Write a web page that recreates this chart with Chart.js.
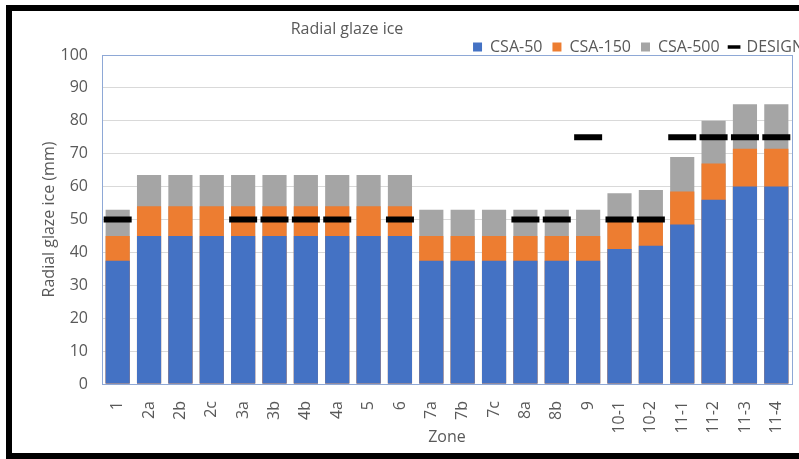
<!DOCTYPE html>
<html>
<head>
<meta charset="utf-8">
<script src="https://cdn.jsdelivr.net/npm/chart.js@4/dist/chart.umd.min.js"></script>
<style>
  html, body { margin: 0; padding: 0; background: #fff; width: 799px; height: 459px; overflow: hidden; }
  #clip { position: absolute; left: 0; top: 0; width: 799px; height: 459px; overflow: hidden; }
  #frame { position: absolute; left: 6px; top: 5px; width: 805px; height: 442px; border: 6px solid #000; background: #fff; }
  #c { position: absolute; left: 0; top: 0; }
</style>
</head>
<body>
<div id="clip"><div id="frame"><canvas id="c" width="802" height="442"></canvas></div></div>
<script>
// Zones and radial glaze ice thickness (mm) per return period
const zones = ['1','2a','2b','2c','3a','3b','4b','4a','5','6','7a','7b','7c','8a','8b','9','10-1','10-2','11-1','11-2','11-3','11-4'];
const csa50  = [37.5,45,45,45,45,45,45,45,45,45,37.5,37.5,37.5,37.5,37.5,37.5,41,42,48.5,56,60,60];
const csa150 = [45,54,54,54,54,54,54,54,54,54,45,45,45,45,45,45,50,50,58.5,67,71.5,71.5];
const csa500 = [53,63.5,63.5,63.5,63.5,63.5,63.5,63.5,63.5,63.5,53,53,53,53,53,53,58,59,69,80,85,85];
const design = [50,null,null,null,50,50,50,50,null,50,null,null,null,50,50,75,50,50,75,75,75,75];
const yTicks = [0,10,20,30,40,50,60,70,80,90,100];

const textGrey = '#595959';
const FONT = "'Open Sans', 'DejaVu Sans', sans-serif";
const FS = 16;

// Frame around the plot area
const plotBorder = {
  id: 'plotBorder',
  beforeDatasetsDraw(chart) {
    const {ctx, chartArea: a} = chart;
    ctx.save();
    ctx.strokeStyle = '#8ea8d6';
    ctx.lineWidth = 1;
    ctx.strokeRect(Math.round(a.left) + 0.5, Math.round(a.top) + 0.5, Math.round(a.right - a.left), Math.round(a.bottom - a.top));
    ctx.restore();
  }
};

// Chart heading, placed left of centre above the legend
const heading = {
  id: 'heading',
  afterDraw(chart) {
    const {ctx} = chart;
    ctx.save();
    ctx.font = FS + "px " + FONT;
    ctx.fillStyle = textGrey;
    ctx.textAlign = 'center';
    ctx.textBaseline = 'middle';
    ctx.fillText('Radial glaze ice', 335, 18.5);
    ctx.restore();
  }
};

new Chart(document.getElementById('c'), {
  data: {
    labels: zones,
    datasets: [
      { type: 'bar', label: 'CSA-50',  data: csa50,  backgroundColor: '#4472C4', grouped: false, order: 1 },
      { type: 'bar', label: 'CSA-150', data: csa150, backgroundColor: '#ED7D31', grouped: false, order: 2 },
      { type: 'bar', label: 'CSA-500', data: csa500, backgroundColor: '#A5A5A5', grouped: false, order: 3 },
      { type: 'line', label: 'DESIGN', data: design, showLine: false, pointStyle: 'line',
        pointRadius: 14, pointHoverRadius: 14, pointBorderWidth: 6, pointHoverBorderWidth: 6,
        borderColor: '#000', backgroundColor: '#000', order: 0 }
    ]
  },
  options: {
    responsive: false,
    animation: false,
    devicePixelRatio: 1,
    layout: { padding: { top: 18, left: 0, right: 0, bottom: 0 } },
    datasets: { bar: { categoryPercentage: 1, barPercentage: 0.77 } },
    plugins: {
      tooltip: { enabled: false },
      title: { display: false },
      legend: {
        position: 'top',
        align: 'end',
        maxHeight: 26,
        labels: {
          usePointStyle: true,
          boxWidth: 9,
          boxHeight: 9,
          padding: 10,
          color: textGrey,
          font: { family: FONT, size: FS },
          generateLabels(chart) {
            const items = Chart.defaults.plugins.legend.labels.generateLabels(chart);
            items.forEach(it => {
              if (it.datasetIndex === 3) {
                it.pointStyle = 'line'; it.strokeStyle = '#000'; it.lineWidth = 3.5;
              } else {
                it.pointStyle = 'rect'; it.lineWidth = 0;
              }
            });
            return items.sort((a, b) => a.datasetIndex - b.datasetIndex);
          }
        }
      }
    },
    scales: {
      x: {
        grid: { display: false },
        border: { display: false },
        ticks: { color: textGrey, font: { family: FONT, size: FS }, minRotation: 90, maxRotation: 90, padding: 9, autoSkip: false },
        title: { display: true, text: 'Zone', color: textGrey, font: { family: FONT, size: FS }, padding: { top: 0, bottom: 6 } },
        afterFit(s) { s.height = 69; }
      },
      y: {
        min: 0, max: 100,
        afterBuildTicks(s) { s.ticks = yTicks.map(v => ({ value: v })); },
        grid: { color: '#d9d9d9', lineWidth: 1, drawTicks: false },
        border: { display: false },
        ticks: { color: textGrey, font: { family: FONT, size: FS }, padding: 14 },
        title: { display: true, text: 'Radial glaze ice (mm)', color: textGrey, font: { family: FONT, size: FS }, padding: { top: 28, bottom: 0 } },
        afterFit(s) { s.width = 90; }
      },
      spacer: {
        position: 'right',
        display: true,
        grid: { display: false },
        border: { display: false },
        ticks: { display: false },
        afterFit(s) { s.width = 22; }
      }
    }
  },
  plugins: [plotBorder, heading]
});
</script>
</body>
</html>
